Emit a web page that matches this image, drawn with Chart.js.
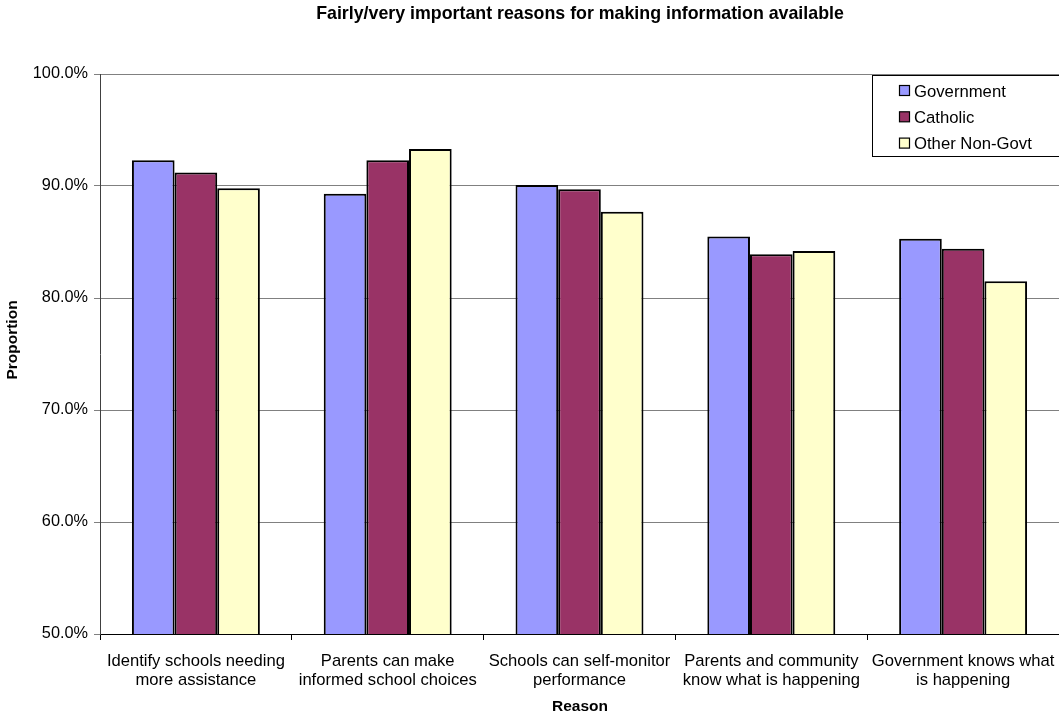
<!DOCTYPE html>
<html>
<head>
<meta charset="utf-8">
<script src="https://cdn.jsdelivr.net/npm/chart.js@4/dist/chart.umd.min.js"></script>
<style>
  html, body { margin: 0; padding: 0; background: #fff; }
  #wrap { width: 1059px; height: 717px; }
</style>
</head>
<body>
<div id="wrap"><canvas id="c" width="1059" height="717"></canvas></div>
<script>
// Survey results: share rating each reason as fairly/very important, by school sector
const chartTitle = 'Fairly/very important reasons for making information available';
const xTitle = 'Reason';
const yTitle = 'Proportion';

const categories = [
  ['Identify schools needing', 'more assistance'],
  ['Parents can make', 'informed school choices'],
  ['Schools can self-monitor', 'performance'],
  ['Parents and community', 'know what is happening'],
  ['Government knows what', 'is happening']
];

const seriesNames = ['Government', 'Catholic', 'Other Non-Govt'];
const government = [92.3, 89.3, 90.1, 85.5, 85.3];
const catholic   = [91.2, 92.3, 89.7, 83.9, 84.4];
const otherNonGovt = [89.8, 93.3, 87.7, 84.2, 81.5];

const yTicks = [50, 60, 70, 80, 90, 100];

const colours = ['#9999FF', '#993366', '#FFFFCC'];
const FONT = '"Liberation Sans", Arial, sans-serif';

// Titles and the boxed legend drawn on top of the plot
const decorations = {
  id: 'decorations',
  afterDraw(chart) {
    const ctx = chart.ctx;
    const area = chart.chartArea;
    ctx.save();
    ctx.fillStyle = '#000';
    ctx.textAlign = 'center';
    ctx.textBaseline = 'middle';
    ctx.font = 'bold 17.8px ' + FONT;
    ctx.fillText(chartTitle, (area.left + 1060) / 2, 14);
    ctx.font = 'bold 15.5px ' + FONT;
    ctx.fillText(xTitle, (area.left + 1060) / 2, 707);
    ctx.translate(13, 340);
    ctx.rotate(-Math.PI / 2);
    ctx.fillText(yTitle, 0, 0);
    ctx.restore();

    // legend
    ctx.save();
    const lx = 872.5, ly = 75.5, lw = 200, lh = 81;
    ctx.fillStyle = '#fff';
    ctx.fillRect(lx, ly, lw, lh);
    ctx.strokeStyle = '#000';
    ctx.lineWidth = 1;
    ctx.strokeRect(lx, ly, lw, lh);
    ctx.font = '16.7px ' + FONT;
    ctx.textAlign = 'left';
    ctx.textBaseline = 'middle';
    chart.data.datasets.forEach((ds, i) => {
      const cy = 91 + i * 26.3;
      ctx.fillStyle = ds.backgroundColor;
      ctx.fillRect(899.5, cy - 5.5, 10, 10);
      ctx.strokeStyle = '#000';
      ctx.lineWidth = 1.2;
      ctx.strokeRect(899.5, cy - 5.5, 10, 10);
      ctx.fillStyle = '#000';
      ctx.fillText(ds.label, 914, cy + 1);
    });
    ctx.restore();
  }
};

new Chart(document.getElementById('c'), {
  type: 'bar',
  data: {
    labels: categories,
    datasets: [government, catholic, otherNonGovt].map((values, i) => ({
      label: seriesNames[i],
      data: values,
      backgroundColor: colours[i],
      borderColor: '#000',
      borderWidth: 2,
      categoryPercentage: 0.667,
      barPercentage: 1.0
    }))
  },
  options: {
    responsive: false,
    animation: false,
    devicePixelRatio: 1,
    layout: { padding: { top: 74, left: 0, right: 0, bottom: 0 } },
    plugins: {
      legend: { display: false },
      title: { display: false },
      tooltip: { enabled: false }
    },
    scales: {
      x: {
        afterFit(scale) {
          scale.height = 83;
          scale.paddingLeft = 0;
          scale.paddingRight = 0;
        },
        grid: {
          offset: true,
          drawOnChartArea: false,
          drawTicks: true,
          tickLength: 6,
          color: '#000'
        },
        border: { color: '#000', width: 1 },
        ticks: {
          color: '#000',
          font: { family: FONT, size: 16.6 },
          padding: 11,
          maxRotation: 0,
          autoSkip: false
        }
      },
      y: {
        min: 50,
        max: 100,
        afterFit(scale) {
          scale.width = 100;
          scale.paddingTop = 0;
          scale.paddingBottom = 0;
        },
        afterBuildTicks(scale) { scale.ticks = yTicks.map(v => ({ value: v })); },
        grid: {
          color: '#808080',
          lineWidth: 1,
          tickLength: 6,
          drawTicks: true
        },
        border: { color: '#404040', width: 1 },
        ticks: {
          color: '#000',
          font: { family: FONT, size: 16.3 },
          padding: 6,
          callback: v => v.toFixed(1) + '%'
        }
      }
    }
  },
  plugins: [decorations]
});
</script>
</body>
</html>
